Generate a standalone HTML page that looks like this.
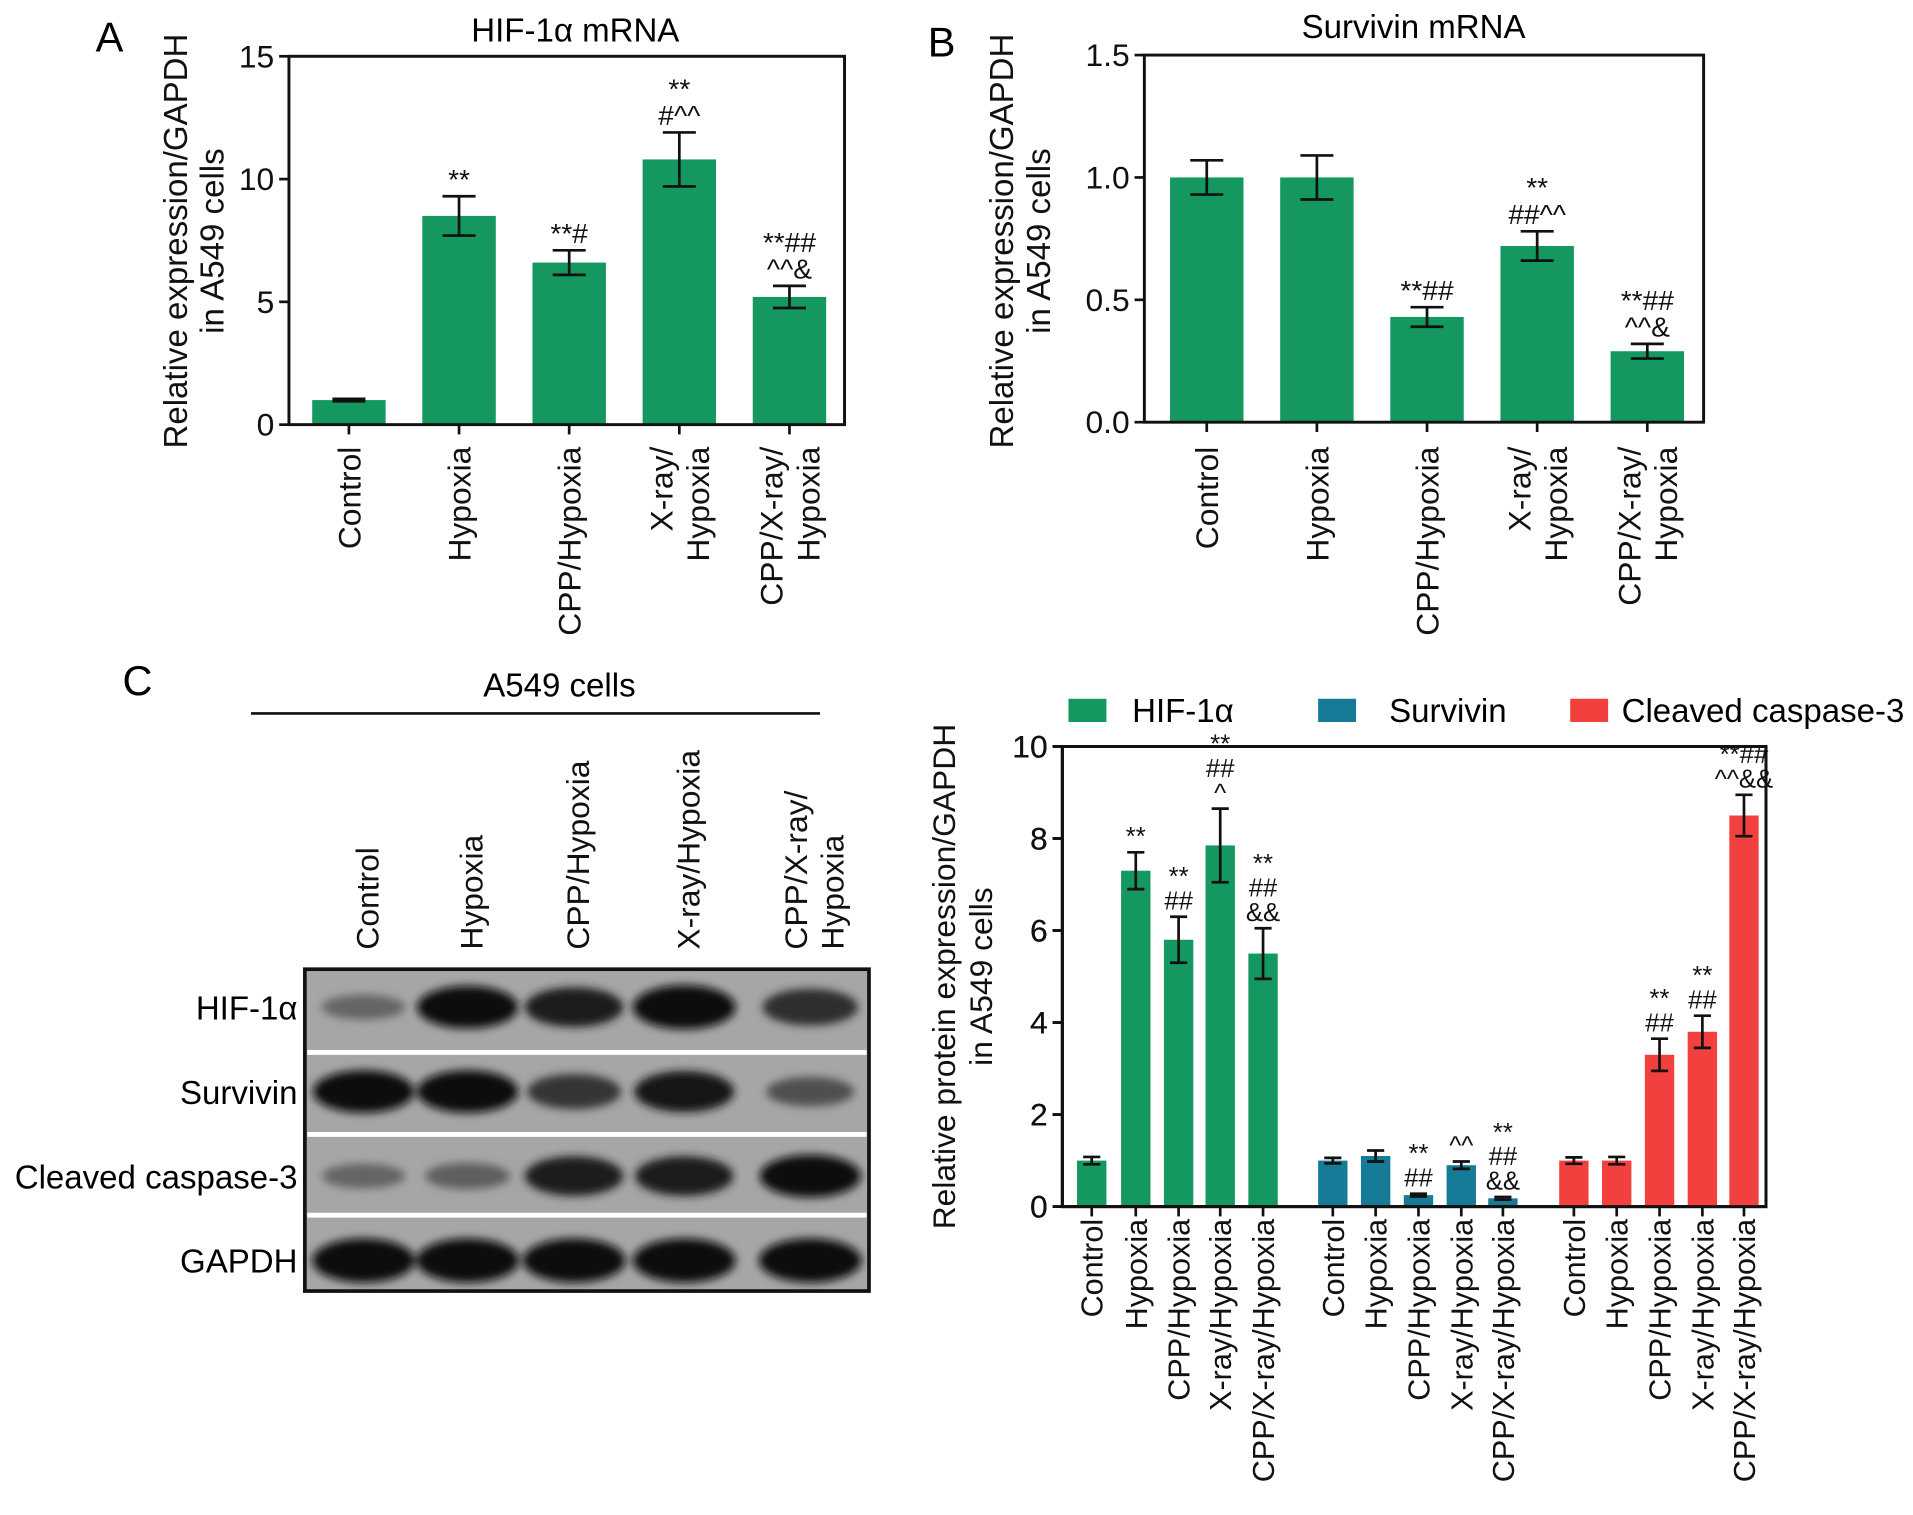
<!DOCTYPE html>
<html><head><meta charset="utf-8"><style>
html,body{margin:0;padding:0;background:#fff;}
svg{display:block;font-family:"Liberation Sans",Arial,sans-serif;}
</style></head><body>
<svg id="fig" width="1913" height="1515" viewBox="0 0 1563 1238" xmlns="http://www.w3.org/2000/svg">
<defs><filter id="blur" x="-20%" y="-50%" width="140%" height="200%"><feGaussianBlur stdDeviation="3.5"/></filter></defs>
<text x="78" y="42" font-size="34">A</text>
<text x="758" y="46" font-size="34">B</text>
<text x="100" y="568" font-size="34">C</text>
<g id="pa"></g>
<g id="pb"></g>
<g id="blot"></g>
<g id="pc"></g>
</svg>
<script>
const NS="http://www.w3.org/2000/svg";
const groups=["Control","Hypoxia","CPP/Hypoxia","X-ray/Hypoxia","CPP/X-ray/Hypoxia"];
const aLabels=[["Control"],["Hypoxia"],["CPP/Hypoxia"],["X-ray/","Hypoxia"],["CPP/X-ray/","Hypoxia"]];
const aValues=[1.0,8.5,6.6,10.8,5.2];
const aErrors=[0.05,0.8,0.5,1.1,0.45];
const aTicks=[0,5,10,15];
const aAnnot=[[],["**"],["**#"],["**","#^^"],["**##","^^&"]];
const bValues=[1.0,1.0,0.43,0.72,0.29];
const bErrors=[0.07,0.09,0.04,0.06,0.03];
const bTicks=["0.0","0.5","1.0","1.5"];
const bAnnot=[[],[],["**##"],["**","##^^"],["**##","^^&"]];
const cSeries=["HIF-1α","Survivin","Cleaved caspase-3"];
const cHif=[1.0,7.3,5.8,7.85,5.5];
const cHifErr=[0.08,0.4,0.5,0.8,0.55];
const cSurv=[1.0,1.1,0.25,0.9,0.18];
const cSurvErr=[0.06,0.12,0.03,0.08,0.03];
const cCasp=[1.0,1.0,3.3,3.8,8.5];
const cCaspErr=[0.07,0.08,0.35,0.35,0.45];
const cTicks=[0,2,4,6,8,10];
const cHifAnn=[[],["**"],["**","##"],["**","##","^"],["**","##","&&"]];
const cSurvAnn=[[],[],["**","##"],["^^"],["**","##","&&"]];
const cCaspAnn=[[],[],["**","##"],["**","##"],["**##","^^&&"]];
const blotRows=["HIF-1α","Survivin","Cleaved caspase-3","GAPDH"];
const blotIntensity=[[0.35,0.95,0.85,1.0,0.75],[0.95,0.95,0.7,0.9,0.5],[0.35,0.4,0.85,0.85,0.95],[1,1,1,1,1]];
const GREEN="#14985f",TEAL="#167b97",RED="#f2403e";

function el(p,t,a,txt){const e=document.createElementNS(NS,t);for(const k in a)e.setAttribute(k,a[k]);if(txt!==undefined)e.textContent=txt;p.appendChild(e);return e;}

function barChart(g,o){
  const {x0,x1,y0,y1,min,max,centers,values,errors,ticks,color,bw,annot,annotSize}=o;
  const Y=v=>y1-(v-min)/(max-min)*(y1-y0);
  values.forEach((v,i)=>{
    const b=el(g,"rect",{x:centers[i]-bw/2,y:Y(v),width:bw,height:Y(min)-Y(v),fill:color});
    
    
    const e=errors[i],cw=o.capw||bw*0.45;
    const eb=el(g,"path",{d:`M${centers[i]},${Y(v+e)}V${Y(v-e)}M${centers[i]-cw/2},${Y(v+e)}h${cw}M${centers[i]-cw/2},${Y(v-e)}h${cw}`,stroke:"#111","stroke-width":2.2,fill:"none"});
    
    
    const ann=annot[i];
    ann.forEach((s,j)=>{
      const t=el(g,"text",{x:centers[i],y:Y(v+e)-6-(ann.length-1-j)*annotSize*0.95,"font-size":annotSize,"text-anchor":"middle",fill:"#111"},s);
      
      
    });
  });
  el(g,"rect",{x:x0,y:y0,width:x1-x0,height:y1-y0,fill:"none",stroke:"#111","stroke-width":2.4});
  ticks.forEach(t=>{
    const v=parseFloat(t);
    el(g,"line",{x1:x0-8,x2:x0,y1:Y(v),y2:Y(v),stroke:"#111","stroke-width":2.2});
    const tl=el(g,"text",{x:x0-12,y:Y(v)+9,"font-size":o.tickSize,"text-anchor":"end",fill:"#111"},String(t));
    
    
  });
  centers.forEach(c=>el(g,"line",{x1:c,x2:c,y1:y1,y2:y1+8,stroke:"#111","stroke-width":2.2}));
  return Y;
}
function rotLabels(g,centers,labels,top,size,lh,anchor){
  labels.forEach((ls,i)=>{
    const n=ls.length;
    ls.forEach((s,j)=>{
      const x=centers[i]+(j-(n-1)/2)*lh+size*0.36;
      const t=el(g,"text",{x:x,y:top,"font-size":size,"text-anchor":anchor||"end",transform:`rotate(-90 ${x} ${top})`,fill:"#111"},s);
      
      
    });
  });
}
function yTitle(g,cx,cy,lines,size){
  lines.forEach((s,j)=>{
    const x=cx+(j-(lines.length-1)/2)*30+size*0.36;
    const t=el(g,"text",{x:x,y:cy,"font-size":size,"text-anchor":"middle",transform:`rotate(-90 ${x} ${cy})`,fill:"#111"},s);
    
    
  });
}

// Panel A
const pa=document.getElementById("pa");
const aC=[285,375,465,555,645];
barChart(pa,{x0:236,x1:690,y0:46,y1:347,min:0,max:15,centers:aC,values:aValues,errors:aErrors,ticks:aTicks,color:GREEN,bw:60,annot:aAnnot,annotSize:23,tickSize:26,prefix:'a-'});
let t=el(pa,"text",{x:470,y:34,"font-size":27,"text-anchor":"middle"},"HIF-1α mRNA");

yTitle(pa,158,197,["Relative expression/GAPDH","in A549 cells"],27);
rotLabels(pa,aC,aLabels,365,26,30);

// Panel B
const pb=document.getElementById("pb");
const bC=[986,1076,1166,1256,1346];
barChart(pb,{x0:935,x1:1392,y0:45,y1:345,min:0,max:1.5,centers:bC,values:bValues,errors:bErrors,ticks:bTicks,color:GREEN,bw:60,annot:bAnnot,annotSize:23,tickSize:26,prefix:'b-'});
t=el(pb,"text",{x:1155,y:31,"font-size":27,"text-anchor":"middle"},"Survivin mRNA");

yTitle(pb,833,197,["Relative expression/GAPDH","in A549 cells"],27);
rotLabels(pb,bC,aLabels,365,26,30);

// Blot
const bl=document.getElementById("blot");
t=el(bl,"text",{x:457,y:569,"font-size":27,"text-anchor":"middle"},"A549 cells");

el(bl,"line",{x1:205,x2:670,y1:583,y2:583,stroke:"#111","stroke-width":2.2});
const lanes=[300,385,472,562,665];
const laneLabels=[["Control"],["Hypoxia"],["CPP/Hypoxia"],["X-ray/Hypoxia"],["CPP/X-ray/","Hypoxia"]];
rotLabels(bl,lanes,laneLabels,776,26,30,"start");
el(bl,"rect",{x:249,y:792,width:461,height:263,fill:"#a6a6a6",stroke:"#111","stroke-width":3});
const rowY=[823,892,961,1030];
const bands=el(bl,"g",{filter:"url(#blur)"});
blotIntensity.forEach((r,ri)=>r.forEach((v,li)=>{
  const c=Math.round(150-140*v);
  el(bands,"ellipse",{cx:lanes[li]-3,cy:rowY[ri],rx:30+12*v,ry:6+12*v,fill:`rgb(${c},${c},${c})`});
}));
[860,927,993].forEach(y=>el(bl,"rect",{x:251,y:y-2,width:457,height:4,fill:"#fff"}));
blotRows.forEach((s,i)=>{
  const tt=el(bl,"text",{x:243,y:rowY[i]+10,"font-size":27,"text-anchor":"end"},s);
  
});

// Panel C chart
const pc=document.getElementById("pc");
const c1=[892,928,963,997,1032],c2=[1089,1124,1159,1194,1228],c3=[1286,1321,1356,1391,1425];
const common={x0:868,x1:1443,y0:610,y1:986,min:0,max:10,ticks:cTicks,bw:24,annotSize:21,tickSize:26,capw:14};
barChart(pc,Object.assign({},common,{centers:c1,values:cHif,errors:cHifErr,color:GREEN,annot:cHifAnn,prefix:'hif-'}));
barChart(pc,Object.assign({},common,{centers:c2,values:cSurv,errors:cSurvErr,color:TEAL,annot:cSurvAnn,prefix:'survivin-'}));
barChart(pc,Object.assign({},common,{centers:c3,values:cCasp,errors:cCaspErr,color:RED,annot:cCaspAnn,prefix:'caspase-'}));
yTitle(pc,786,798,["Relative protein expression/GAPDH","in A549 cells"],26);
const allC=c1.concat(c2,c3),allL=[];for(let k=0;k<3;k++)groups.forEach(g=>allL.push([g]));
rotLabels(pc,allC,allL,996,25,30);
const legX=[[873,925],[1077,1135],[1283,1325]],legCol=[GREEN,TEAL,RED];
cSeries.forEach((s,i)=>{
  const r=el(pc,"rect",{x:legX[i][0],y:571,width:31,height:19,fill:legCol[i]});
  
  const tt=el(pc,"text",{x:legX[i][1],y:590,"font-size":27},s);
  
});
</script>
</body></html>
